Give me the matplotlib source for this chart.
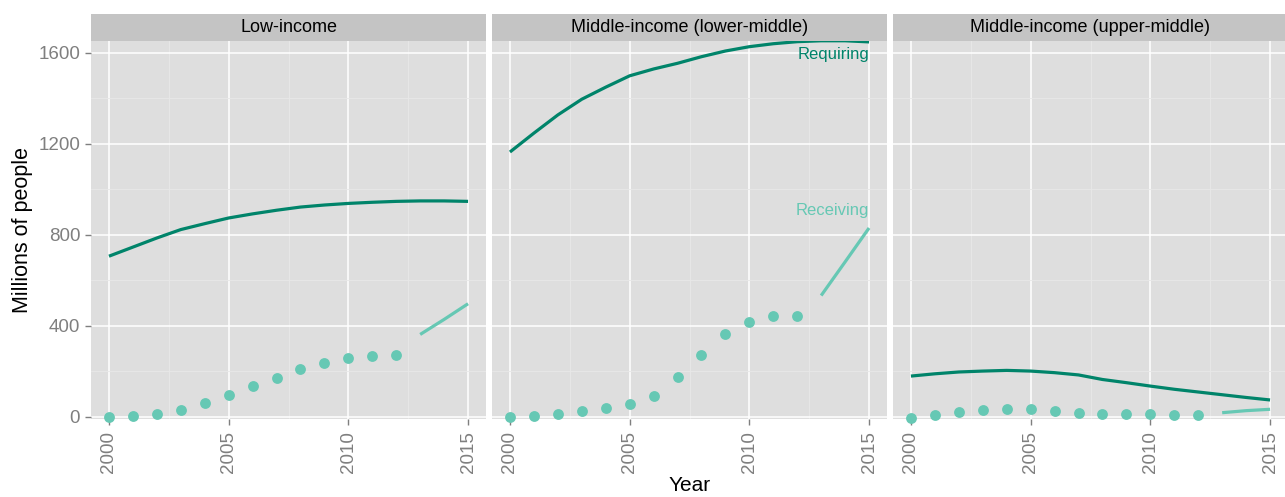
import numpy as np
import matplotlib
matplotlib.use("Agg")
import matplotlib.pyplot as plt

plt.rcParams['font.family'] = ['Liberation Sans', 'DejaVu Sans']

panels = ["Low-income", "Middle-income (lower-middle)", "Middle-income (upper-middle)"]

years_req = np.arange(2000, 2016)
years_dots = np.arange(2000, 2013)
years_line = np.array([2013, 2014, 2015])

requiring = [
    [705, 745, 785, 822, 848, 873, 891, 907, 921, 930, 937, 942, 946, 948, 948, 946],
    [1163, 1246, 1326, 1395, 1448, 1498, 1528, 1553, 1582, 1607, 1626, 1639, 1648, 1652, 1652, 1647],
    [178, 188, 196, 200, 203, 200, 193, 183, 163, 149, 134, 120, 108, 96, 84, 73],
]
receiving_dots = [
    [0, 2, 10, 29, 58, 93, 133, 171, 209, 235, 256, 266, 270],
    [0, 2, 10, 23, 36, 57, 90, 175, 272, 361, 415, 444, 441],
    [-5, 9, 20, 29, 35, 35, 23, 17, 12, 10, 10, 9, 9],
]
receiving_line = [
    [361, 427, 496],
    [532, 680, 829],
    [17, 26, 32],
]

dark = "#00846A"
light = "#66C8B4"
W, H = 1285, 497

fig = plt.figure(figsize=(W / 100, H / 100), dpi=100)
lefts = [91, 492, 893]
pw = 395
top, bottom = 41, 419.3

for i, name in enumerate(panels):
    ax = fig.add_axes([lefts[i] / W, 1 - bottom / H, pw / W, (bottom - top) / H])
    ax.set_facecolor("#DEDEDE")
    for s in ax.spines.values():
        s.set_visible(False)
    ax.set_xlim(1999.25, 2015.75)
    ax.set_ylim(-12, 1651)
    ax.set_xticks([2000, 2005, 2010, 2015])
    ax.set_xticks([2002.5, 2007.5, 2012.5], minor=True)
    ax.set_yticks([0, 400, 800, 1200, 1600])
    ax.set_yticks([200, 600, 1000, 1400], minor=True)
    ax.grid(which="major", color="white", lw=1.1)
    ax.grid(which="minor", color="#E8E8E8", lw=0.6)
    ax.set_axisbelow(True)
    ax.tick_params(which="major", length=4.3, width=1, color="#7F7F7F", labelcolor="#7F7F7F", labelsize=13.5)
    ax.tick_params(axis="x", pad=4)
    ax.tick_params(which="minor", length=0)
    ax.tick_params(axis="x", labelrotation=90)
    if i > 0:
        ax.tick_params(axis="y", left=False, labelleft=False)

    ax.plot(years_req, requiring[i], color=dark, lw=2.3, solid_capstyle="butt")
    ax.plot(years_dots, receiving_dots[i], "o", color=light, ms=7.8, mew=0, clip_on=False)
    ax.plot(years_line, receiving_line[i], color=light, lw=2.3, solid_capstyle="butt")

    if i == 0:
        ax.set_ylabel("Millions of people", fontsize=15.5, labelpad=4)
    if i == 1:
        ax.set_xlabel("Year", fontsize=15, labelpad=2)
        ax.text(2015, 1592, "Requiring", color=dark, fontsize=12, ha="right", va="center")
        ax.text(2015, 906, "Receiving", color=light, fontsize=12, ha="right", va="center")

    sx = fig.add_axes([lefts[i] / W, 1 - top / H, pw / W, 27 / H])
    sx.set_facecolor("#C4C4C4")
    for s in sx.spines.values():
        s.set_visible(False)
    sx.set_xticks([])
    sx.set_yticks([])
    sx.text(0.5, 0.5, name, transform=sx.transAxes, ha="center", va="center", fontsize=13)

fig.savefig("out.png", dpi=100)
